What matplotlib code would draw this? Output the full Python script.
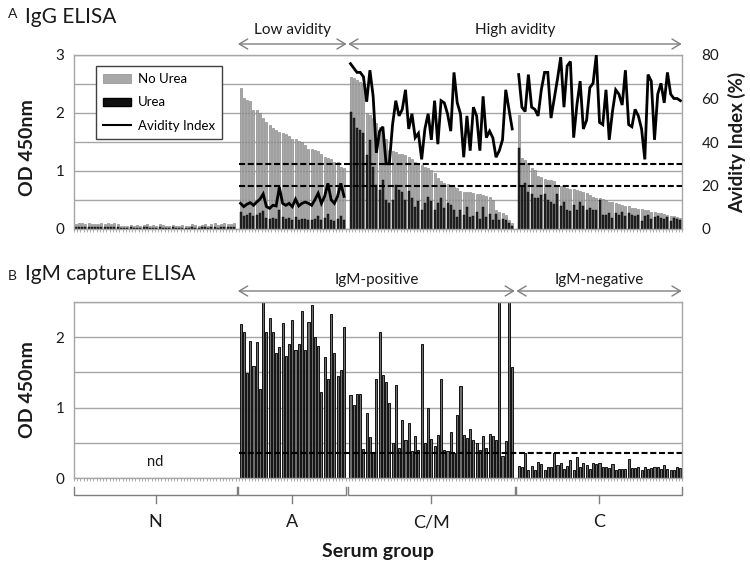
import matplotlib
matplotlib.use('Agg')
import matplotlib.pyplot as plt
import matplotlib.transforms as mtransforms
from matplotlib.patches import Patch
from matplotlib.lines import Line2D
import numpy as np

plt.rcParams['font.family'] = ['Lato', 'DejaVu Sans']

# ---------------- data ----------------
group_names = ['N', 'A', 'C/M', 'C']

# IgG ELISA, OD 450nm without urea
N_noUrea = [0.09, 0.10, 0.10, 0.09, 0.10, 0.09, 0.08, 0.09, 0.10, 0.09,
            0.11, 0.09, 0.10, 0.08, 0.05, 0.06, 0.05, 0.07, 0.06, 0.07,
            0.05, 0.07, 0.08, 0.06, 0.07, 0.06, 0.08, 0.07, 0.05, 0.06,
            0.07, 0.06, 0.05, 0.07, 0.06, 0.06, 0.08, 0.07, 0.06, 0.07,
            0.09, 0.06, 0.08, 0.10, 0.07, 0.08, 0.10, 0.09, 0.08, 0.10]
N_urea = [0.03, 0.04, 0.03, 0.03, 0.04, 0.03, 0.03, 0.03, 0.04, 0.03,
          0.04, 0.03, 0.03, 0.03, 0.02, 0.02, 0.02, 0.03, 0.02, 0.02,
          0.02, 0.03, 0.03, 0.02, 0.02, 0.02, 0.03, 0.02, 0.02, 0.02,
          0.03, 0.02, 0.02, 0.02, 0.02, 0.02, 0.03, 0.02, 0.02, 0.03,
          0.03, 0.02, 0.03, 0.04, 0.02, 0.03, 0.04, 0.03, 0.03, 0.04]

A_noUrea = [2.43, 2.26, 2.22, 2.20, 2.05, 2.05, 2.00, 1.91, 1.84, 1.80,
            1.74, 1.70, 1.67, 1.66, 1.64, 1.60, 1.55, 1.55, 1.52, 1.50,
            1.45, 1.38, 1.38, 1.36, 1.35, 1.30, 1.25, 1.22, 1.20, 1.15,
            1.15, 1.07, 1.05]
A_urea = [0.29, 0.23, 0.25, 0.27, 0.22, 0.25, 0.27, 0.31, 0.19, 0.17,
          0.19, 0.18, 0.32, 0.20, 0.18, 0.19, 0.16, 0.21, 0.16, 0.18,
          0.18, 0.16, 0.15, 0.18, 0.22, 0.15, 0.19, 0.26, 0.16, 0.14,
          0.17, 0.22, 0.16]
A_avidity = [11.8, 10.3, 11.4, 12.1, 10.9, 12.4, 13.7, 16.1, 10.3, 9.5,
             10.9, 10.6, 19.2, 11.8, 10.9, 11.8, 10.3, 13.7, 10.6, 11.8,
             12.4, 11.8, 10.9, 13.5, 16.4, 11.8, 15.0, 21.0, 13.5, 11.8,
             15.0, 21.0, 15.0]

CM_noUrea = [2.62, 2.60, 2.57, 2.54, 2.51, 2.00, 1.97, 1.91, 1.82, 1.76,
             1.62, 1.56, 1.36, 1.34, 1.33, 1.30, 1.29, 1.27, 1.24, 1.20,
             1.16, 1.13, 1.10, 1.07, 1.05, 1.02, 0.96, 0.88, 0.82, 0.80,
             0.78, 0.76, 0.73, 0.70, 0.66, 0.64, 0.63, 0.63, 0.62, 0.61,
             0.61, 0.59, 0.57, 0.55, 0.50, 0.33, 0.30, 0.28, 0.24, 0.16,
             0.10]
CM_urea = [2.02, 1.91, 1.74, 1.71, 1.65, 1.28, 1.53, 1.07, 0.76, 0.67,
           0.84, 0.50, 0.44, 0.50, 0.76, 0.68, 0.63, 0.50, 0.66, 0.53,
           0.38, 0.48, 0.33, 0.44, 0.56, 0.48, 0.33, 0.44, 0.53, 0.36,
           0.44, 0.41, 0.33, 0.21, 0.33, 0.24, 0.38, 0.21, 0.22, 0.30,
           0.17, 0.38, 0.21, 0.26, 0.16, 0.26, 0.16, 0.17, 0.16, 0.10,
           0.06]
CM_avidity = [76, 74, 72, 72, 70, 58.5, 73, 61, 35, 45,
              47, 30, 30, 48, 59, 52, 55, 64, 46, 53,
              42, 44, 32, 46, 53, 41, 59, 39, 59, 58,
              53, 45, 72, 58, 53, 33, 52, 36, 56, 52,
              36, 61, 42, 45, 42, 33, 36, 41, 64, 55,
              46]

C_noUrea = [1.97, 1.22, 1.19, 1.13, 1.05, 1.02, 0.91, 0.89, 0.86, 0.85,
            0.84, 0.82, 0.76, 0.74, 0.72, 0.70, 0.69, 0.69, 0.67, 0.66,
            0.64, 0.62, 0.59, 0.55, 0.53, 0.53, 0.52, 0.50, 0.47, 0.46,
            0.44, 0.43, 0.41, 0.40, 0.39, 0.37, 0.36, 0.35, 0.34, 0.33,
            0.32, 0.30, 0.29, 0.28, 0.27, 0.26, 0.24, 0.23, 0.22, 0.21,
            0.19]
C_urea = [1.40, 0.75, 0.79, 0.64, 0.61, 0.53, 0.53, 0.59, 0.61, 0.50,
          0.47, 0.43, 0.60, 0.39, 0.47, 0.33, 0.31, 0.41, 0.33, 0.46,
          0.39, 0.32, 0.36, 0.33, 0.32, 0.50, 0.24, 0.24, 0.27, 0.19,
          0.27, 0.24, 0.30, 0.22, 0.28, 0.24, 0.22, 0.24, 0.13, 0.22,
          0.24, 0.17, 0.21, 0.22, 0.19, 0.17, 0.21, 0.14, 0.19, 0.17,
          0.16]
C_avidity = [71, 56, 54, 71, 56, 55, 52, 64, 72, 72,
             51, 60, 69, 79, 56, 75, 77, 42, 57, 68,
             46, 50, 65, 67, 80, 49, 48, 64, 41, 54,
             64, 62, 57, 73, 48, 47, 55, 52, 46, 32,
             71, 68, 41, 62, 67, 58, 72, 62, 60, 60,
             59]

# IgM capture ELISA, OD 450nm (N group not determined)
A_igm = [2.19, 2.07, 1.49, 1.95, 1.59, 1.93, 1.27, 2.50, 2.08, 2.27,
         2.08, 1.77, 1.86, 2.20, 1.74, 1.90, 2.25, 1.82, 1.91, 2.37,
         1.82, 2.22, 2.46, 2.00, 1.88, 1.22, 1.72, 1.40, 2.33, 1.77,
         1.45, 1.54, 2.14]
CM_igm = [1.18, 1.03, 1.19, 1.19, 0.41, 0.93, 0.58, 0.35, 1.41, 2.07,
          1.46, 1.36, 1.06, 0.50, 1.32, 0.42, 0.82, 0.54, 0.78, 0.39,
          0.59, 0.40, 1.91, 0.50, 1.00, 0.55, 0.46, 0.61, 1.41, 0.40,
          0.39, 0.65, 0.35, 0.90, 1.30, 0.61, 0.57, 0.70, 0.54, 0.50,
          0.40, 0.60, 0.42, 0.62, 0.60, 0.54, 2.50, 0.31, 0.52, 2.50,
          1.57]
C_igm = [0.17, 0.16, 0.36, 0.12, 0.17, 0.12, 0.23, 0.20, 0.11, 0.16,
         0.15, 0.35, 0.18, 0.21, 0.13, 0.17, 0.26, 0.12, 0.30, 0.15,
         0.21, 0.18, 0.13, 0.21, 0.20, 0.21, 0.15, 0.15, 0.14, 0.20,
         0.12, 0.13, 0.13, 0.13, 0.27, 0.14, 0.14, 0.16, 0.12, 0.16,
         0.13, 0.14, 0.15, 0.16, 0.13, 0.18, 0.13, 0.12, 0.12, 0.16,
         0.14]

avidity_cutoffs = [20, 30]
igm_cutoff = 0.35

# ---------------- layout helpers ----------------
W, H = 750, 570
def fx(px):
    return px / W
def fy(px):
    return 1 - px / H

sizes = [len(N_noUrea), len(A_noUrea), len(CM_noUrea), len(C_noUrea)]
starts = []
p = 0
for s in sizes:
    starts.append(p)
    p += s + 1
n_slots = p - 1
xs = [np.arange(st, st + s) for st, s in zip(starts, sizes)]
bounds = [-0.5] + [st + s for st, s in zip(starts, sizes)]
bounds[-1] = n_slots - 0.5
xlim = (-0.5, n_slots - 0.5)

GRID = '#a6a6a6'
TXT = '#1a1a1a'

fig = plt.figure(figsize=(7.5, 5.7), dpi=100)
ax1 = fig.add_axes([fx(74), fy(229), fx(608), 174 / H])
ax2 = fig.add_axes([fx(74), fy(478), fx(608), 176 / H])

for ax in (ax1, ax2):
    ax.set_xlim(*xlim)
    ax.set_axisbelow(True)
    for sp in ax.spines.values():
        sp.set_color(GRID)
        sp.set_linewidth(1.0)
    ax.set_xticks([])
    ax.set_xticks(np.arange(xlim[0], xlim[1] + 0.01, 1), minor=True)
    ax.tick_params(axis='x', which='minor', length=2.5, width=0.5, color='#8c8c8c')
    ax.tick_params(axis='y', length=0, labelsize=11, labelcolor=TXT, pad=7)
    ax.yaxis.grid(True, color=GRID, lw=1.0)

# ---------------- top panel ----------------
noUrea_all = [N_noUrea, A_noUrea, CM_noUrea, C_noUrea]
urea_all = [N_urea, A_urea, CM_urea, C_urea]
for x, nu, u in zip(xs, noUrea_all, urea_all):
    ax1.bar(x, nu, width=0.62, color='#a8a8a8', edgecolor='#7a7a7a', linewidth=0.4)
    ax1.bar(x, u, width=0.62, color='#262626', edgecolor='#000000', linewidth=0.3)
ax1.set_ylim(0, 3)
ax1.set_yticks(np.arange(0, 3.01, 0.5))
ax1.set_yticklabels(['0', '', '1', '', '2', '', '3'])
ax1.set_ylabel('OD 450nm', fontsize=14, fontweight='bold', color=TXT, labelpad=12)
ax1.yaxis.set_label_coords(-0.062, 0.47)

ax1r = ax1.twinx()
ax1r.set_ylim(0, 80)
ax1r.set_yticks([0, 20, 40, 60, 80])
ax1r.tick_params(axis='y', length=0, labelsize=11, labelcolor=TXT, pad=14)
for sp in ax1r.spines.values():
    sp.set_visible(False)
for x, av in zip(xs[1:], [A_avidity, CM_avidity, C_avidity]):
    ax1r.plot(x, av, color='black', lw=2.0, solid_joinstyle='miter')
ax1r.hlines(avidity_cutoffs, bounds[1] + 0.5, xlim[1], colors='black',
            linestyles=(0, (2.9, 1.3)), lw=1.5)
ax1r.set_ylabel('Avidity Index (%)', fontsize=13.5, fontweight='bold', color=TXT,
                rotation=90, va='center')
ax1r.yaxis.set_label_coords(1.09, 0.5)

handles = [Patch(facecolor='#a8a8a8', edgecolor='#7a7a7a', lw=0.4),
           Patch(facecolor='#111111', edgecolor='#000000'),
           Line2D([], [], color='black', lw=1.5)]
leg = ax1r.legend(handles, ['No Urea', 'Urea', 'Avidity Index'], loc='upper left',
                  bbox_to_anchor=((96 - 74) / 608, (229 - 66) / 174), borderaxespad=0,
                  fontsize=9.5, frameon=True, fancybox=False, framealpha=1,
                  edgecolor='#404040', handlelength=2.1, handleheight=0.6,
                  handletextpad=0.5, labelspacing=0.85, borderpad=0.55)
leg.get_frame().set_linewidth(1.0)

# ---------------- bottom panel ----------------
for x, v in zip(xs[1:], [A_igm, CM_igm, C_igm]):
    ax2.bar(x, v, width=0.65, color='#6e6e6e', edgecolor='#111111', linewidth=0.7)
ax2.set_ylim(0, 2.5)
ax2.set_yticks(np.arange(0, 2.51, 0.5))
ax2.set_yticklabels(['0', '', '1', '', '2', ''])
ax2.hlines(igm_cutoff, bounds[1] + 0.5, xlim[1], colors='black',
           linestyles=(0, (2.9, 1.3)), lw=1.5)
ax2.set_ylabel('OD 450nm', fontsize=14, fontweight='bold', color=TXT)
ax2.yaxis.set_label_coords(-0.062, 0.5)
ax2.text((bounds[0] + bounds[1]) / 2, 0.23, 'nd', ha='center', va='center',
         fontsize=10.5, color=TXT)

# ---------------- titles ----------------
fig.text(fx(8), fy(18), 'A', fontsize=10, color=TXT, va='baseline')
fig.text(fx(25), fy(23), 'IgG ELISA', fontsize=15, color=TXT, va='baseline')
fig.text(fx(8), fy(280), 'B', fontsize=10, color=TXT, va='baseline')
fig.text(fx(25), fy(280), 'IgM capture ELISA', fontsize=15, color=TXT, va='baseline')

# ---------------- range arrows ----------------
ARROW = '#7f7f7f'
def range_arrow(ax, x0, x1, y_arrow, y_text, label):
    tr = mtransforms.blended_transform_factory(ax.transData, fig.transFigure)
    ax.annotate('', xy=(x1, fy(y_arrow)), xytext=(x0, fy(y_arrow)),
                xycoords=tr, textcoords=tr, annotation_clip=False,
                arrowprops=dict(arrowstyle='<->,head_length=0.5,head_width=0.3',
                                color=ARROW, lw=1.0, shrinkA=0, shrinkB=0,
                                mutation_scale=12))
    ax.text((x0 + x1) / 2, fy(y_text), label, transform=tr, ha='center',
            va='baseline', fontsize=11, color=TXT, clip_on=False)

range_arrow(ax1, bounds[1] + 0.2, bounds[2] - 0.2, 44, 34, 'Low avidity')
range_arrow(ax1, bounds[2] + 0.3, xlim[1] - 0.1, 44, 34, 'High avidity')
range_arrow(ax2, bounds[1] + 0.2, bounds[3] - 0.2, 291, 284, 'IgM-positive')
range_arrow(ax2, bounds[3] + 0.3, xlim[1] - 0.1, 291, 284, 'IgM-negative')

# ---------------- serum group brackets ----------------
trb = mtransforms.blended_transform_factory(ax2.transData, fig.transFigure)
for i, name in enumerate(group_names):
    a, b = bounds[i] + 0.25, bounds[i + 1] - 0.25
    if i == 0:
        a = bounds[0]
    if i == len(group_names) - 1:
        b = xlim[1]
    mid = (bounds[i] + bounds[i + 1]) / 2
    ax2.plot([a, a, b, b], [fy(487), fy(495), fy(495), fy(487)], transform=trb,
             color=ARROW, lw=1.0, clip_on=False)
    ax2.plot([mid, mid], [fy(495), fy(503)], transform=trb, color=ARROW, lw=1.0,
             clip_on=False)
    ax2.text(mid, fy(522), name, transform=trb, ha='center', va='center',
             fontsize=13, color=TXT, clip_on=False)

fig.text(fx(378), fy(551), 'Serum group', ha='center', va='center', fontsize=14,
         fontweight='bold', color=TXT)

fig.savefig('out.png', dpi=100)
